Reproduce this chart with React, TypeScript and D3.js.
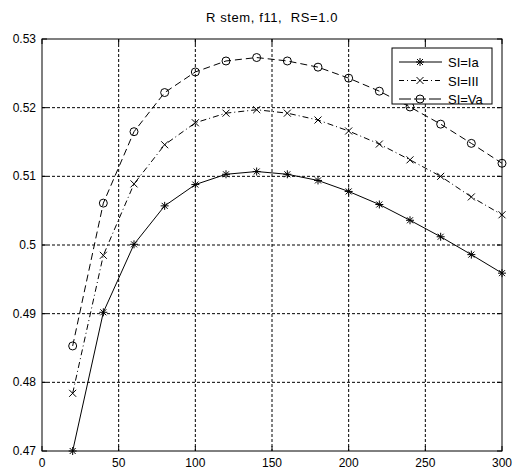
import React, { useEffect, useRef } from 'react';
import * as d3 from 'd3';

const xs = [20, 40, 60, 80, 100, 120, 140, 160, 180, 200, 220, 240, 260, 280, 300];
const siIa = [0.4700, 0.4902, 0.5001, 0.5057, 0.5088, 0.5103, 0.5107, 0.5103, 0.5094, 0.5078, 0.5059, 0.5036, 0.5012, 0.4986, 0.4959];
const siIII = [0.4784, 0.4985, 0.5089, 0.5146, 0.5178, 0.5192, 0.5197, 0.5192, 0.5182, 0.5166, 0.5147, 0.5124, 0.5100, 0.5070, 0.5044];
const siVa = [0.4853, 0.5061, 0.5165, 0.5222, 0.5252, 0.5268, 0.5273, 0.5268, 0.5259, 0.5243, 0.5224, 0.5201, 0.5176, 0.5148, 0.5119];
const seriesNames = ['SI=Ia', 'SI=III', 'SI=Va'];
const xTicks = [0, 50, 100, 150, 200, 250, 300];
const yTicks = [0.47, 0.48, 0.49, 0.5, 0.51, 0.52, 0.53];

const W = 516, H = 470;
const m = { left: 42, right: 14, top: 39, bottom: 19 };

const App = () => {
  const ref = useRef<SVGSVGElement>(null);

  useEffect(() => {
    const svg = d3.select(ref.current);
    svg.selectAll('*').remove();

    const x = d3.scaleLinear().domain([0, 300]).range([m.left, W - m.right]);
    const y = d3.scaleLinear().domain([0.47, 0.53]).range([H - m.bottom, m.top]);
    const font = 'Liberation Sans, Arial, sans-serif';

    // grid
    const g = svg.append('g');
    g.selectAll('.gx').data(xTicks.slice(1, -1)).enter().append('line')
      .attr('x1', d => x(d)).attr('x2', d => x(d))
      .attr('y1', m.top).attr('y2', H - m.bottom)
      .attr('stroke', '#000').attr('stroke-width', 1).attr('stroke-dasharray', '3,2');
    g.selectAll('.gy').data(yTicks.slice(1, -1)).enter().append('line')
      .attr('y1', d => y(d)).attr('y2', d => y(d))
      .attr('x1', m.left).attr('x2', W - m.right)
      .attr('stroke', '#000').attr('stroke-width', 1).attr('stroke-dasharray', '3,2');

    // frame
    svg.append('rect')
      .attr('x', m.left).attr('y', m.top)
      .attr('width', W - m.left - m.right).attr('height', H - m.top - m.bottom)
      .attr('fill', 'none').attr('stroke', '#000').attr('stroke-width', 1);

    // ticks
    xTicks.forEach(t => {
      svg.append('line').attr('x1', x(t)).attr('x2', x(t)).attr('y1', H - m.bottom).attr('y2', H - m.bottom - 5).attr('stroke', '#000');
      svg.append('line').attr('x1', x(t)).attr('x2', x(t)).attr('y1', m.top).attr('y2', m.top + 5).attr('stroke', '#000');
      svg.append('text').attr('x', x(t)).attr('y', H - 3).attr('text-anchor', 'middle')
        .attr('font-family', font).attr('font-size', 12).text(String(t));
    });
    yTicks.forEach(t => {
      svg.append('line').attr('x1', m.left).attr('x2', m.left + 5).attr('y1', y(t)).attr('y2', y(t)).attr('stroke', '#000');
      svg.append('line').attr('x1', W - m.right).attr('x2', W - m.right - 5).attr('y1', y(t)).attr('y2', y(t)).attr('stroke', '#000');
      svg.append('text').attr('x', m.left - 6).attr('y', y(t) + 4).attr('text-anchor', 'end')
        .attr('font-family', font).attr('font-size', 12).text(String(t));
    });

    svg.append('text').attr('x', (m.left + W - m.right) / 2).attr('y', 22).attr('text-anchor', 'middle')
      .attr('font-family', font).attr('font-size', 13).attr('letter-spacing', 0.6)
      .attr('xml:space', 'preserve').style('white-space', 'pre')
      .text('R stem, f11,  RS=1.0');

    const dashes = [null, '6,3,1,3', '7,4'];
    const data = [siIa, siIII, siVa];

    const drawMarker = (sel: any, type: number, cx: number, cy: number) => {
      const s = 4;
      if (type === 0) {
        sel.append('path')
          .attr('d', `M${cx - s},${cy}H${cx + s}M${cx},${cy - s}V${cy + s}M${cx - 3},${cy - 3}L${cx + 3},${cy + 3}M${cx - 3},${cy + 3}L${cx + 3},${cy - 3}`)
          .attr('stroke', '#000').attr('stroke-width', 1).attr('fill', 'none');
      } else if (type === 1) {
        sel.append('path')
          .attr('d', `M${cx - 3.5},${cy - 3.5}L${cx + 3.5},${cy + 3.5}M${cx - 3.5},${cy + 3.5}L${cx + 3.5},${cy - 3.5}`)
          .attr('stroke', '#000').attr('stroke-width', 1).attr('fill', 'none');
      } else {
        sel.append('circle').attr('cx', cx).attr('cy', cy).attr('r', 4)
          .attr('stroke', '#000').attr('stroke-width', 1).attr('fill', 'none');
      }
    };

    const line = d3.line<number>().x((_, i) => x(xs[i])).y(d => y(d));
    data.forEach((vals, k) => {
      const p = svg.append('path').attr('d', line(vals))
        .attr('fill', 'none').attr('stroke', '#000').attr('stroke-width', 1);
      if (dashes[k]) p.attr('stroke-dasharray', dashes[k]);
      const mg = svg.append('g');
      vals.forEach((v, i) => drawMarker(mg, k, x(xs[i]), y(v)));
    });

    // legend
    const lx = 392, ly = 48, lw = 100, lh = 56;
    const lg = svg.append('g');
    lg.append('rect').attr('x', lx).attr('y', ly).attr('width', lw).attr('height', lh)
      .attr('fill', '#fff').attr('stroke', '#000').attr('stroke-width', 1);
    seriesNames.forEach((name, k) => {
      const yy = ly + 14 + k * 18.5;
      const l = lg.append('line').attr('x1', lx + 7).attr('x2', lx + 50).attr('y1', yy).attr('y2', yy)
        .attr('stroke', '#000').attr('stroke-width', 1);
      if (dashes[k]) l.attr('stroke-dasharray', k === 1 ? '5,3,1,3' : '12,3');
      drawMarker(lg, k, lx + 28, yy);
      lg.append('text').attr('x', lx + 56).attr('y', yy + 5).attr('font-family', font).attr('font-size', 13).text(name);
    });
  }, []);

  return (
    <div style={{ position: 'absolute', left: 0, top: 0, background: '#fff' }}>
      <svg ref={ref} width={W} height={H} style={{ display: 'block' }} />
    </div>
  );
};

export default App;
